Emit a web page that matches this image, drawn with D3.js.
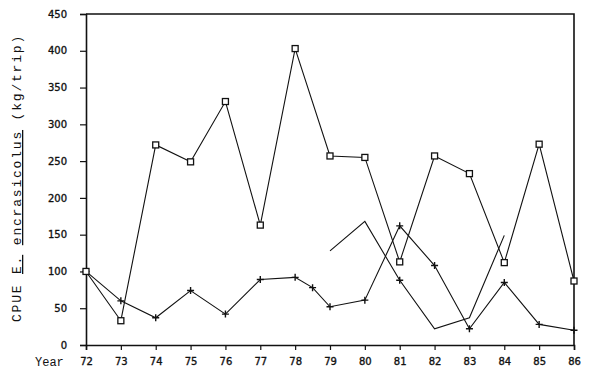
<!DOCTYPE html>
<html>
<head>
<meta charset="utf-8">
<script src="https://cdn.jsdelivr.net/npm/d3@7"></script>
<style>
	body { margin: 0; background: #fff; }
	svg { display: block; }
	.tick-lab { font-family: "DejaVu Sans", sans-serif; font-size: 10px; fill: #111; stroke: #111; stroke-width: 0.35px; }
	.mono { font-family: "Liberation Mono", "DejaVu Sans Mono", monospace; font-size: 12px; fill: #111; }
</style>
</head>
<body>
<svg id="chart" width="600" height="374"></svg>
<script>
// values
var years = [72, 73, 74, 75, 76, 77, 78, 79, 80, 81, 82, 83, 84, 85, 86];
var squareSeries = [100, 33, 272, 249, 331, 163, 403, 257, 255, 113, 257, 233, 112, 273, 87];
var plusYears = [72, 73, 74, 75, 76, 77, 78, 78.5, 79, 80, 81, 82, 83, 84, 85, 86];
var plusSeries = [100, 60, 37, 74, 42, 89, 92, 78, 52, 61, 162, 108, 22, 85, 28, 20];
var lineYears = [79, 80, 81, 82, 83, 84];
var lineSeries = [128, 168, 88, 22, 37, 149];
var yTicks = [0, 50, 100, 150, 200, 250, 300, 350, 400, 450];

var svg = d3.select("#chart");
var plotLeft = 86, plotRight = 574, plotTop = 14, plotBottom = 345;

var x = d3.scaleLinear().domain([72, 86]).range([plotLeft, plotRight]);
var y = d3.scaleLinear().domain([0, 450]).range([plotBottom, plotTop]);

// frame (top and right edges of the plot box)
svg.append("path")
	.attr("d", "M" + plotLeft + "," + plotTop + "H" + plotRight + "V" + plotBottom)
	.attr("fill", "none")
	.attr("stroke", "#111")
	.attr("stroke-width", 1.6);

var yAxis = svg.append("g")
	.attr("transform", "translate(" + plotLeft + ",0)")
	.call(d3.axisLeft(y).tickValues(yTicks).tickSize(6).tickFormat(d3.format("d")));
var xAxis = svg.append("g")
	.attr("transform", "translate(0," + plotBottom + ")")
	.call(d3.axisBottom(x).tickValues(years).tickSize(5).tickFormat(d3.format("d")));

[yAxis, xAxis].forEach(function (a) {
	a.select(".domain").attr("stroke", "#111").attr("stroke-width", 1.6);
	a.selectAll(".tick line").attr("stroke", "#111").attr("stroke-width", 1.2);
	a.selectAll(".tick text").attr("class", "tick-lab").attr("fill", null);
});
yAxis.selectAll(".tick text").attr("x", -19);
xAxis.selectAll(".tick text").attr("y", 13);

svg.append("text")
	.attr("class", "mono")
	.attr("x", 35).attr("y", 366)
	.text("Year");

// y title, with the species name underlined
var title = svg.append("text")
	.attr("class", "mono")
	.attr("transform", "translate(21," + 178 + ") rotate(-90)")
	.attr("text-anchor", "middle")
	.style("font-size", "13px")
	.style("letter-spacing", "1.8px");
title.append("tspan").text("CPUE ");
title.append("tspan").attr("text-decoration", "underline").text("E.");
title.append("tspan").text(" ");
title.append("tspan").attr("text-decoration", "underline").text("encrasicolus");
title.append("tspan").text(" (kg/trip)");

var line = d3.line()
	.x(function (d) { return x(d[0]); })
	.y(function (d) { return y(d[1]); });

var sqData = d3.zip(years, squareSeries);
var plData = d3.zip(plusYears, plusSeries);
var lnData = d3.zip(lineYears, lineSeries);

[sqData, plData, lnData].forEach(function (data) {
	svg.append("path")
		.datum(data)
		.attr("d", line)
		.attr("fill", "none")
		.attr("stroke", "#111")
		.attr("stroke-width", 1.1);
});

svg.append("g").selectAll("path")
	.data(plData.concat([[81, 88]]))
	.enter().append("path")
	.attr("d", function (d) {
		var cx = x(d[0]), cy = y(d[1]);
		return "M" + (cx - 3.5) + "," + cy + "h7M" + cx + "," + (cy - 3.5) + "v7";
	})
	.attr("stroke", "#111")
	.attr("stroke-width", 1.4);

svg.append("g").selectAll("rect")
	.data(sqData)
	.enter().append("rect")
	.attr("x", function (d) { return x(d[0]) - 3; })
	.attr("y", function (d) { return y(d[1]) - 3; })
	.attr("width", 6).attr("height", 6)
	.attr("fill", "#fff")
	.attr("stroke", "#111")
	.attr("stroke-width", 1.3);
</script>
</body>
</html>
